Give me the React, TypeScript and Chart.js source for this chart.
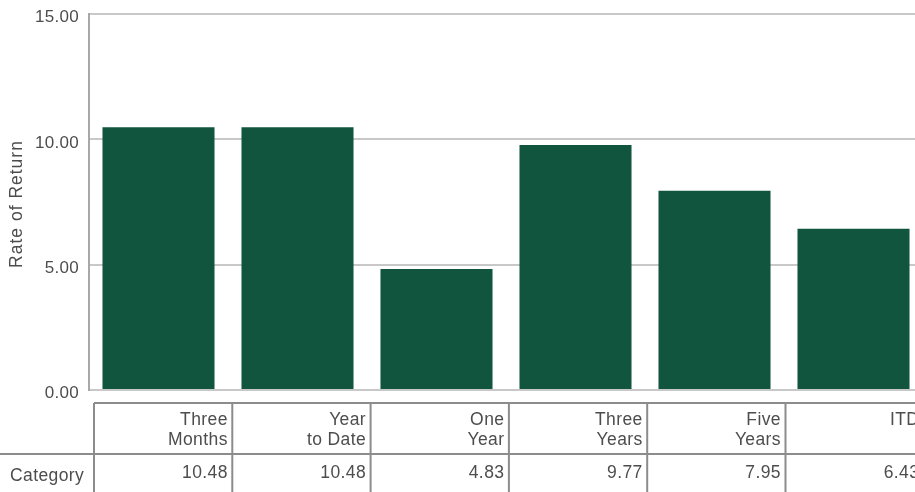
import React, { useEffect, useRef } from "react";
import { Chart, registerables } from "chart.js";

Chart.register(...registerables);

const categories: string[][] = [
  ["Three", "Months"],
  ["Year", "to Date"],
  ["One", "Year"],
  ["Three", "Years"],
  ["Five", "Years"],
  ["ITD"],
];
const values: number[] = [10.48, 10.48, 4.83, 9.77, 7.95, 6.43];
const valueLabels: string[] = ["10.48", "10.48", "4.83", "9.77", "7.95", "6.43"];
const rowLabel = "Category";
const yTitle = "Rate of Return";
const yMin = 0;
const yMax = 15;
const yStep = 5;

const FONT = "'Liberation Sans', Arial, sans-serif";
const TEXT = "#4d4d4d";

const spacingPlugin = {
  id: "spacing",
  beforeUpdate(chart: any) {
    chart.ctx.letterSpacing = "0.3px";
  },
  beforeDraw(chart: any) {
    chart.ctx.letterSpacing = "0.3px";
  },
};

const tablePlugin = {
  id: "dataTable",
  afterDraw(chart: any) {
    const ctx = chart.ctx as CanvasRenderingContext2D;
    const top = 403;
    const mid = 454;
    const bottom = 492;
    const x0 = 94;
    const colW = 138.3;
    ctx.save();
    ctx.strokeStyle = "#8c8c8c";
    ctx.lineWidth = 2;
    ctx.beginPath();
    ctx.moveTo(x0, top);
    ctx.lineTo(chart.width, top);
    ctx.moveTo(0, mid);
    ctx.lineTo(chart.width, mid);
    for (let i = 0; i <= categories.length; i++) {
      const x = x0 + i * colW;
      ctx.moveTo(x, top);
      ctx.lineTo(x, bottom);
    }
    ctx.stroke();
    ctx.fillStyle = TEXT;
    ctx.font = `17.5px ${FONT}`;
    (ctx as any).letterSpacing = "0.4px";
    ctx.textAlign = "right";
    ctx.textBaseline = "alphabetic";
    categories.forEach((lines, i) => {
      const xr = x0 + (i + 1) * colW - 4.5;
      lines.forEach((ln, j) => ctx.fillText(ln, xr, 425 + j * 20));
      ctx.fillText(valueLabels[i], xr, 478);
    });
    ctx.textAlign = "left";
    ctx.fillText(rowLabel, 10, 481);

    // y axis title
    (ctx as any).letterSpacing = "1px";
    ctx.translate(17.5, 204);
    ctx.rotate(-Math.PI / 2);
    ctx.textAlign = "center";
    ctx.textBaseline = "middle";
    ctx.fillText(yTitle, 0, 0);
    ctx.restore();
  },
};

export default function App() {
  const ref = useRef<HTMLCanvasElement>(null);
  useEffect(() => {
    if (!ref.current) return;
    const chart = new Chart(ref.current, {
      type: "bar",
      data: {
        labels: categories.map((c) => c.join(" ")),
        datasets: [
          {
            data: values,
            backgroundColor: "#11553f",
            categoryPercentage: 1,
            barPercentage: 0.806,
          },
        ],
      },
      options: {
        animation: false,
        responsive: false,
        devicePixelRatio: 1,
        layout: { padding: { top: 14, bottom: 102, right: 7, left: 0 } },
        plugins: { legend: { display: false }, tooltip: { enabled: false } },
        scales: {
          x: { display: false, grid: { display: false } },
          y: {
            min: yMin,
            max: yMax,
            ticks: {
              stepSize: yStep,
              padding: 10,
              labelOffset: 3.5,
              color: TEXT,
              font: { family: FONT, size: 17 },
              callback: (v: any) => Number(v).toFixed(2),
            },
            grid: { color: "#c8c8c8", lineWidth: 2, drawTicks: false },
            border: { color: "#a8a8a8", width: 2 },
            title: { display: false },
            afterFit: (s: any) => {
              s.width = 89;
              s.paddingTop = 0;
              s.paddingBottom = 0;
            },
          },
        },
      },
      plugins: [spacingPlugin, tablePlugin],
    });
    return () => chart.destroy();
  }, []);
  return (
    <div
      style={{
        position: "absolute",
        left: 0,
        top: 0,
        width: 915,
        height: 492,
        overflow: "hidden",
        background: "#fff",
      }}
    >
      <canvas ref={ref} width={930} height={492} style={{ display: "block" }} />
    </div>
  );
}
